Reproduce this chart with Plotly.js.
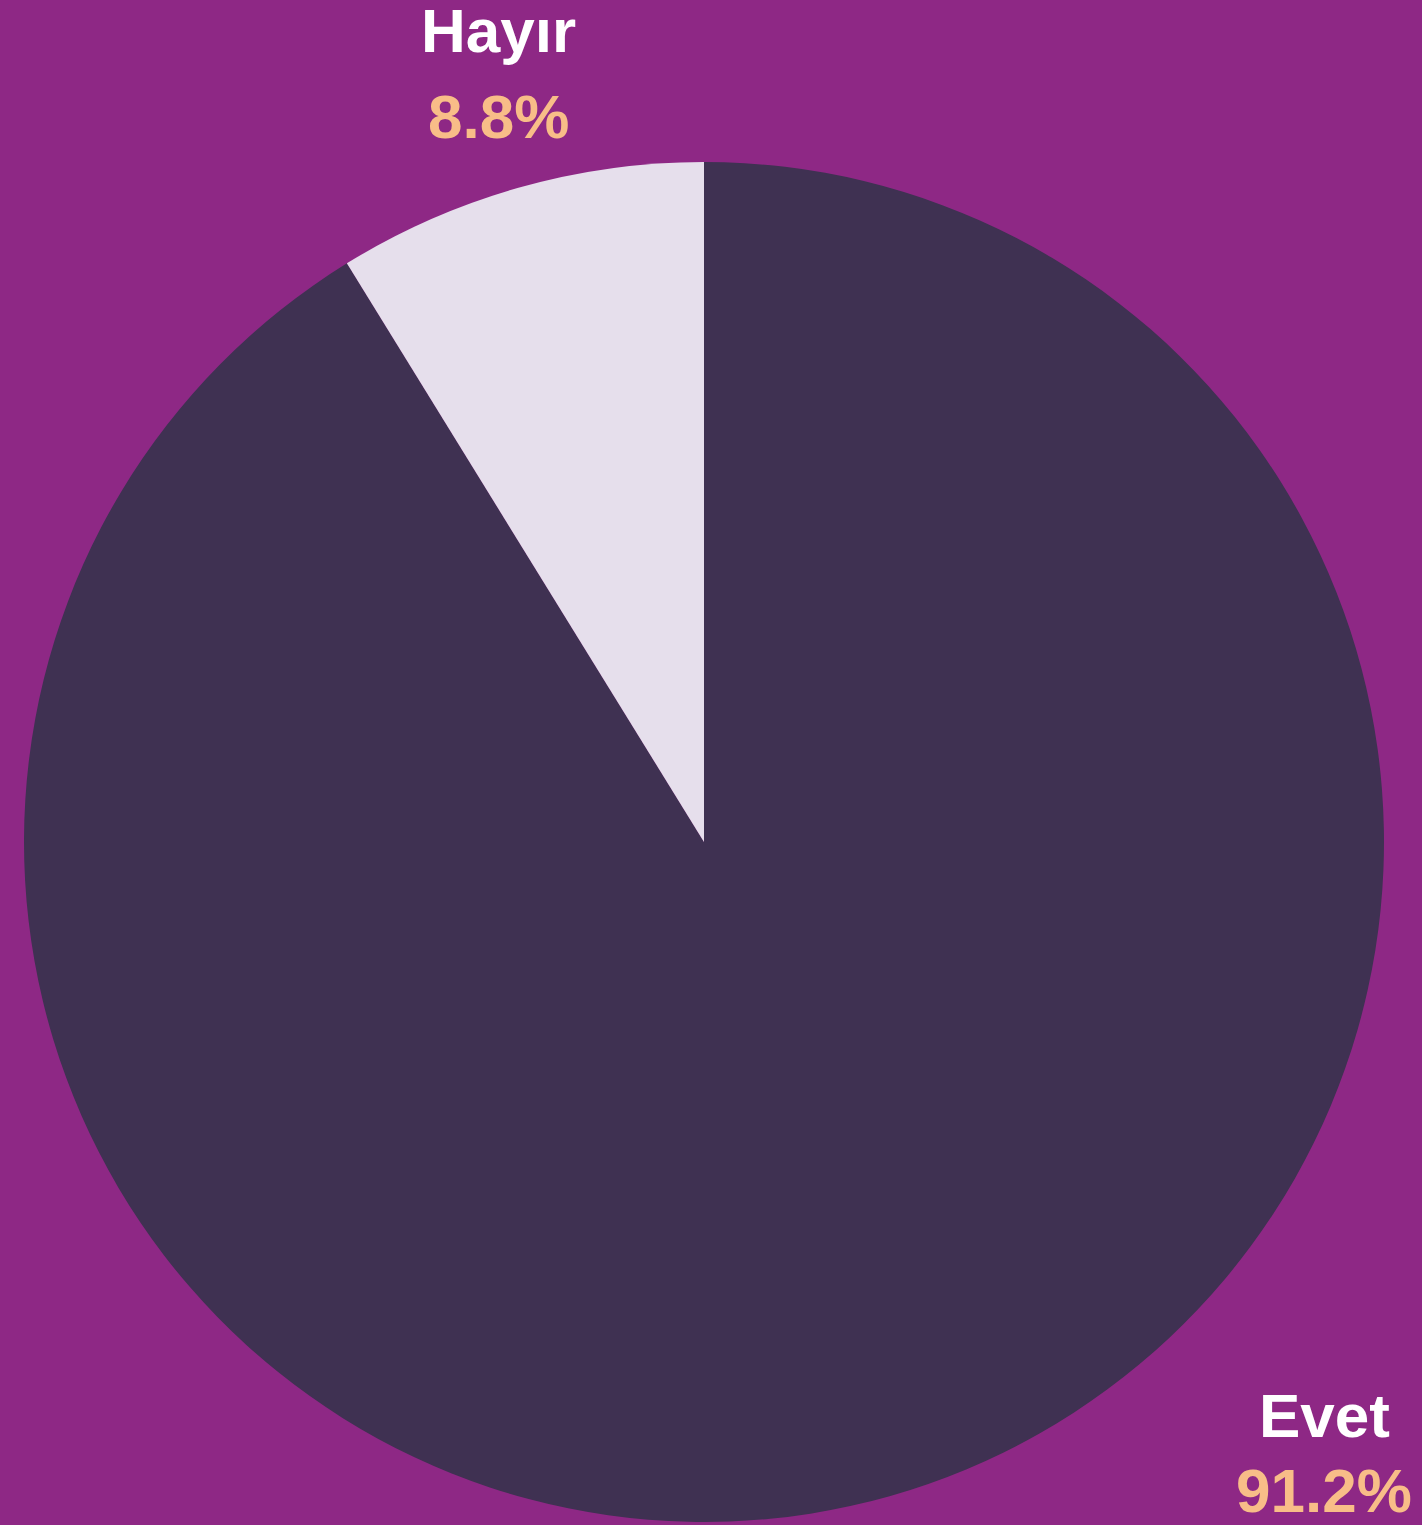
<!DOCTYPE html>
<html>
<head>
<meta charset="utf-8">
<script src="https://cdn.plot.ly/plotly-3.0.1.min.js"></script>
<style>html,body{margin:0;padding:0;background:#8e2885;}</style>
</head>
<body>
<div id="chart" style="width:1422px;height:1525px;"></div>
<script>
const labels = ["Evet", "Hayır"];
const values = [91.2, 8.8];
const sliceColors = ["#3f3152", "#e6dfec"];

const W = 1422, H = 1525;
const total = values.reduce((a, b) => a + b, 0);
const pct = v => (v / total * 100).toFixed(1) + "%";

// label placements (pixel centres) for each category
const labelPos = {
  "Evet":  {x: 1324, yName: 1415, yPct: 1490},
  "Hayır": {x: 498,  yName: 31,   yPct: 116}
};

const annotations = [];
labels.forEach((lab, i) => {
  const p = labelPos[lab];
  annotations.push({
    xref: "paper", yref: "paper", x: p.x / W, y: 1 - p.yName / H,
    xanchor: "center", yanchor: "middle", showarrow: false,
    text: "<b>" + lab + "</b>",
    font: {family: "Liberation Sans, Arial, sans-serif", size: 62, color: "#ffffff"}
  });
  annotations.push({
    xref: "paper", yref: "paper", x: p.x / W, y: 1 - p.yPct / H,
    xanchor: "center", yanchor: "middle", showarrow: false,
    text: "<b>" + pct(values[i]) + "</b>",
    font: {family: "Liberation Sans, Arial, sans-serif", size: 62, color: "#f8bd88"}
  });
});

const cx = 704, cy = 842, r = 680;
const data = [{
  type: "pie",
  labels: labels,
  values: values,
  sort: false,
  direction: "clockwise",
  rotation: 0,
  marker: {colors: sliceColors, line: {width: 0}},
  textinfo: "none",
  hoverinfo: "label+percent",
  domain: {
    x: [(cx - r) / W, (cx + r) / W],
    y: [1 - (cy + r) / H, 1 - (cy - r) / H]
  }
}];

const layout = {
  width: W, height: H,
  margin: {l: 0, r: 0, t: 0, b: 0},
  paper_bgcolor: "#8e2885",
  showlegend: false,
  annotations: annotations
};

Plotly.newPlot("chart", data, layout, {displayModeBar: false, staticPlot: true});
</script>
</body>
</html>
